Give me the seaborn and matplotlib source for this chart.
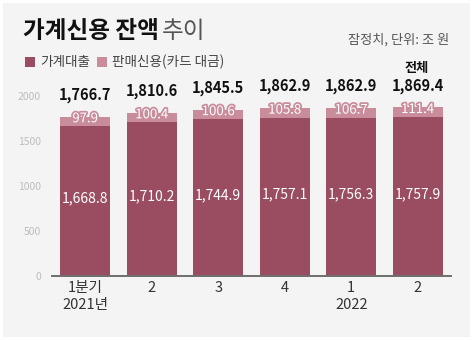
import matplotlib
matplotlib.use("Agg")
import matplotlib.pyplot as plt
import matplotlib.patheffects as pe
import seaborn as sns
import pandas as pd
from matplotlib.patches import Rectangle

sns.set_theme(style="white")
plt.rcParams["font.family"] = ["Noto Sans CJK KR", "DejaVu Sans"]

# 분기별 가계신용 잔액 (조 원, 잠정치)
quarters = ["1분기\n2021년", "2", "3", "4", "1\n2022", "2"]
household_loans = [1668.8, 1710.2, 1744.9, 1757.1, 1756.3, 1757.9]
sales_credit = [97.9, 100.4, 100.6, 105.8, 106.7, 111.4]
totals = [1766.7, 1810.6, 1845.5, 1862.9, 1862.9, 1869.4]
y_ticks = [0, 500, 1000, 1500, 2000]

dark = "#9a4d61"
light = "#c98c9b"
panel = "#f4f4f4"

df = pd.DataFrame({
    "quarter": [f"q{i}" for i in range(len(quarters))],
    "loans": household_loans,
    "sales": sales_credit,
})
df["stack_top"] = df["loans"] + df["sales"]

fig = plt.figure(figsize=(4.74, 3.40), dpi=100)
fig.patch.set_facecolor("white")
fig.patches.append(Rectangle((3 / 474, 3 / 340), 467 / 474, 334 / 340,
                             transform=fig.transFigure, facecolor=panel,
                             edgecolor="none", zorder=-10))

ax = fig.add_axes([52 / 474, 64.3 / 340, 399 / 474, 180 / 340])
ax.set_facecolor("none")

sns.barplot(data=df, x="quarter", y="stack_top", color=light, width=0.75,
            saturation=1, linewidth=0, ax=ax, zorder=2)
sns.barplot(data=df, x="quarter", y="loans", color=dark, width=0.75,
            saturation=1, linewidth=0, ax=ax, zorder=3)

ax.set_xlim(-0.5, len(quarters) - 0.5)
ax.set_ylim(0, 2000)
ax.set_yticks(y_ticks)
ax.set_yticklabels([str(t) for t in y_ticks], fontsize=7.5, color="#bdbdbd")
ax.set_xticks(range(len(quarters)))
ax.set_xticklabels(quarters, fontsize=10.5, color="#333333", linespacing=1.25)
ax.tick_params(axis="y", length=5, width=0.8, color="#c8c8c8", pad=3,
               direction="out")
ax.tick_params(axis="x", length=0, pad=4)
ax.set_xlabel("")
ax.set_ylabel("")
for side in ["top", "right", "left"]:
    ax.spines[side].set_visible(False)
ax.spines["bottom"].set_color("#6e6e6e")
ax.spines["bottom"].set_linewidth(1.4)
ax.spines["bottom"].set_zorder(4)

halo = [pe.withStroke(linewidth=2.5, foreground=light)]
for i, (loan, sale, total) in enumerate(zip(household_loans, sales_credit, totals)):
    ax.text(i, loan * 0.515, f"{loan:,.1f}", ha="center", va="center",
            color="white", fontsize=10, zorder=5)
    ax.annotate(f"{sale:,.1f}", (i, loan + sale), xytext=(0, -1.5),
                textcoords="offset points", ha="center", va="center",
                color="white", fontsize=9.5, zorder=5, annotation_clip=False,
                path_effects=halo)
    ax.annotate(f"{total:,.1f}", (i, loan + sale), xytext=(0, 10),
                textcoords="offset points", ha="center", va="bottom",
                color="#111111", fontsize=10.5, fontweight="bold", zorder=5,
                annotation_clip=False)

# 제목과 부제
title = fig.text(23 / 474, 1 - 31 / 340, "가계신용 잔액", fontsize=17,
                 fontweight="bold", color="#111111", ha="left", va="center")
renderer = fig.canvas.get_renderer()
title_right = title.get_window_extent(renderer).x1
fig.text((title_right + 3) / 474, 1 - 31 / 340, "추이", fontsize=17,
         color="#555555", ha="left", va="center")
fig.text(449 / 474, 1 - 40 / 340, "잠정치, 단위: 조 원", fontsize=9.5,
         color="#555555", ha="right", va="center")

# 범례
for x0, label, c in [(25, "가계대출", dark), (97, "판매신용(카드 대금)", light)]:
    fig.patches.append(Rectangle((x0 / 474, 1 - 67 / 340), 10 / 474, 10 / 340,
                                 transform=fig.transFigure, facecolor=c,
                                 edgecolor="none"))
    fig.text((x0 + 15) / 474, 1 - 62 / 340, label, fontsize=9.8,
             color="#444444", ha="left", va="center")

fig.text(417 / 474, 1 - 68 / 340, "전체", fontsize=9.5, fontweight="bold",
         color="#111111", ha="center", va="center")

fig.savefig("out.png", dpi=100, facecolor="white")
